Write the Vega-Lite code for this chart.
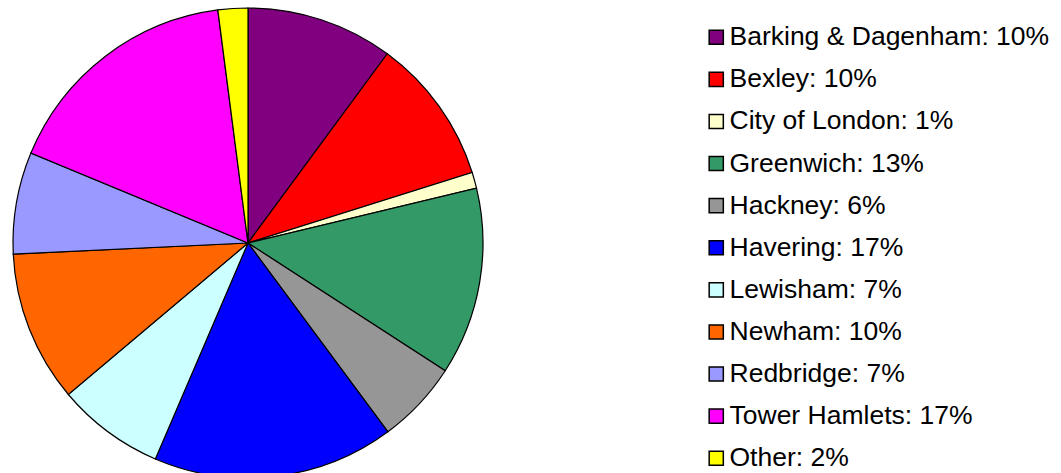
{
  "$schema": "https://vega.github.io/schema/vega-lite/v6.json",
  "width": 496,
  "height": 486,
  "padding": 0,
  "autosize": {"type": "pad"},
  "background": "white",
  "config": {"view": {"stroke": null}, "font": "Liberation Sans"},
  "data": {
    "values": [
      {"borough": "Barking & Dagenham", "label": "Barking & Dagenham: 10%", "value": 10.1, "order": 1},
      {"borough": "Bexley", "label": "Bexley: 10%", "value": 10.05, "order": 2},
      {"borough": "City of London", "label": "City of London: 1%", "value": 1.1, "order": 3},
      {"borough": "Greenwich", "label": "Greenwich: 13%", "value": 12.9, "order": 4},
      {"borough": "Hackney", "label": "Hackney: 6%", "value": 5.7, "order": 5},
      {"borough": "Havering", "label": "Havering: 17%", "value": 16.6, "order": 6},
      {"borough": "Lewisham", "label": "Lewisham: 7%", "value": 7.4, "order": 7},
      {"borough": "Newham", "label": "Newham: 10%", "value": 10.4, "order": 8},
      {"borough": "Redbridge", "label": "Redbridge: 7%", "value": 7.0, "order": 9},
      {"borough": "Tower Hamlets", "label": "Tower Hamlets: 17%", "value": 16.7, "order": 10},
      {"borough": "Other", "label": "Other: 2%", "value": 2.05, "order": 11}
    ]
  },
  "mark": {"type": "arc", "radius": 235, "stroke": "black", "strokeWidth": 1.2},
  "encoding": {
    "theta": {"field": "value", "type": "quantitative", "stack": true},
    "order": {"field": "order", "type": "quantitative"},
    "color": {
      "field": "label",
      "type": "nominal",
      "scale": {
        "domain": ["Barking & Dagenham: 10%", "Bexley: 10%", "City of London: 1%", "Greenwich: 13%", "Hackney: 6%", "Havering: 17%", "Lewisham: 7%", "Newham: 10%", "Redbridge: 7%", "Tower Hamlets: 17%", "Other: 2%"],
        "range": ["#800080", "#FF0000", "#FFFFCC", "#339966", "#969696", "#0000FF", "#CCFFFF", "#FF6600", "#9999FF", "#FF00FF", "#FFFF00"]
      },
      "legend": {
        "title": null,
        "orient": "none",
        "legendX": 703,
        "legendY": 24,
        "symbolType": "square",
        "symbolSize": 200,
        "symbolStrokeColor": "black",
        "symbolStrokeWidth": 1.5,
        "symbolOpacity": 1,
        "labelFont": "Liberation Sans",
        "labelFontSize": 26.5,
        "labelColor": "black",
        "labelOffset": 0,
        "labelLimit": 0,
        "rowPadding": 15.1
      }
    }
  }
}
